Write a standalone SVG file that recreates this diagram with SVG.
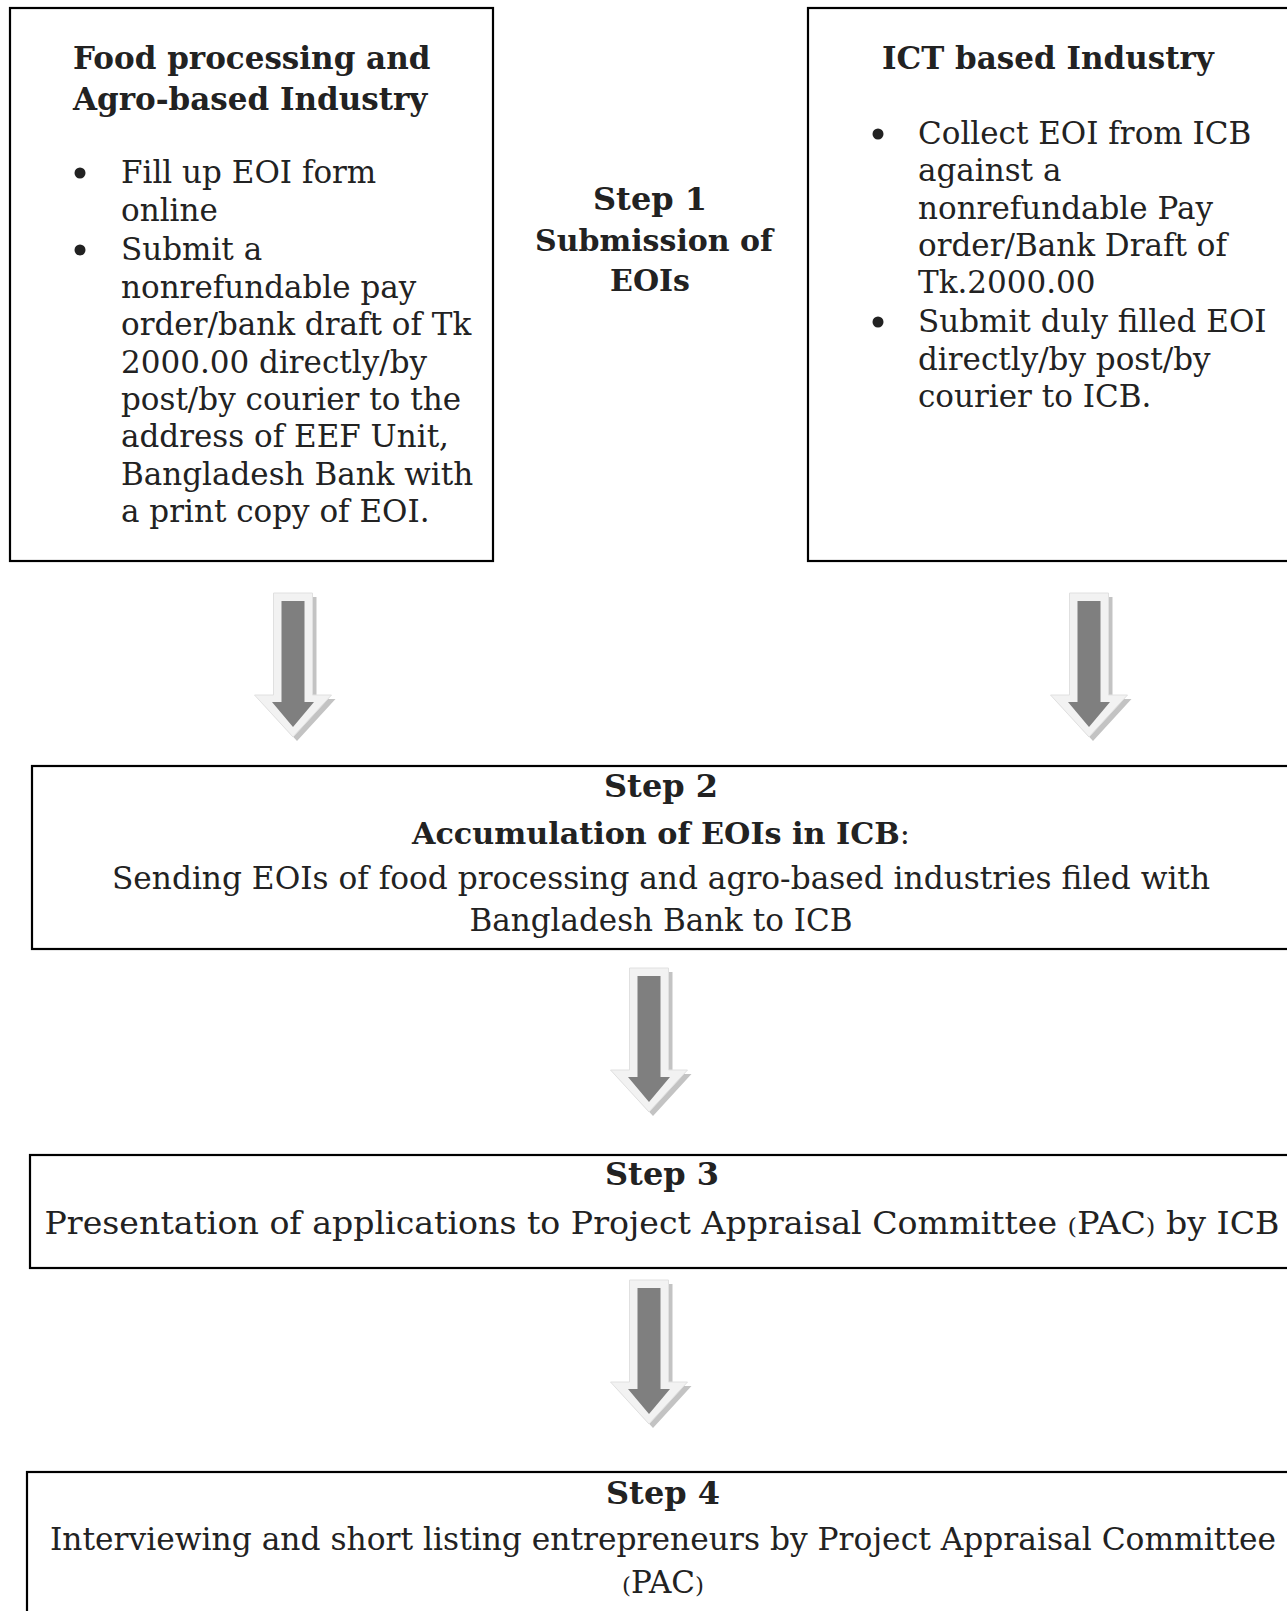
<svg xmlns="http://www.w3.org/2000/svg" xmlns:xlink="http://www.w3.org/1999/xlink" width="1287" height="1611" viewBox="0 0 1287 1611">
<style>
.box{fill:#fff;stroke:#000;stroke-width:2.2}
.t{font-family:"DejaVu Serif","Liberation Serif",serif;fill:#222}
.h{font-weight:bold;font-size:31px}
.b{font-size:31px}
.s{font-weight:bold;font-size:32px}
.c{text-anchor:middle}
.p{font-size:23px}
.dot{fill:#222}
</style>
<defs>
<g id="arrow">
<path d="M-15.5,4 H23.5 V106 H42.5 L4,148 L-34.5,106 H-15.5 Z" fill="#c3c3c3"/>
<path d="M-19.5,0 H19.5 V102 H38.5 L0,144 L-38.5,102 H-19.5 Z" fill="#f2f2f2" stroke="#e0e0e0" stroke-width="1"/>
<path d="M-11.5,8 H11.5 V109 H21 L0,134 L-21,109 H-11.5 Z" fill="#7f7f7f"/>
</g>
</defs>
<rect width="1287" height="1611" fill="#fff"/>

<g id="connectors">
<use xlink:href="#arrow" x="293" y="593"/>
<use xlink:href="#arrow" x="1089" y="593"/>
<use xlink:href="#arrow" x="649" y="968"/>
<use xlink:href="#arrow" x="649" y="1280"/>
</g>

<g id="food">
<rect class="box" x="10" y="8" width="483" height="553"/>
<text class="t h" x="73" y="69">Food processing and</text>
<text class="t h" x="73" y="110">Agro-based Industry</text>
<circle class="dot" cx="80" cy="173" r="5.5"/>
<circle class="dot" cx="80" cy="250" r="5.5"/>
<text class="t b" x="121" y="183">Fill up EOI form</text>
<text class="t b" x="121" y="221">online</text>
<text class="t b" x="121" y="260">Submit a</text>
<text class="t b" x="121" y="298">nonrefundable pay</text>
<text class="t b" x="121" y="335">order/bank draft of Tk</text>
<text class="t b" x="121" y="373">2000.00 directly/by</text>
<text class="t b" x="121" y="410">post/by courier to the</text>
<text class="t b" x="121" y="447">address of EEF Unit,</text>
<text class="t b" x="121" y="485">Bangladesh Bank with</text>
<text class="t b" x="121" y="522">a print copy of EOI.</text>
</g>

<g id="step1">
<text class="t c" style="font-weight:bold;font-size:32px" x="650" y="210">Step 1</text>
<text class="t c" style="font-weight:bold;font-size:30px" x="654" y="251">Submission of</text>
<text class="t c" style="font-weight:bold;font-size:30px" x="650" y="291">EOIs</text>
</g>

<g id="ict">
<rect class="box" x="808" y="8" width="500" height="553"/>
<text class="t h" x="882" y="69">ICT based Industry</text>
<circle class="dot" cx="878" cy="134" r="5.5"/>
<circle class="dot" cx="878" cy="322" r="5.5"/>
<text class="t b" x="918" y="144">Collect EOI from ICB</text>
<text class="t b" x="918" y="181">against a</text>
<text class="t b" x="918" y="219">nonrefundable Pay</text>
<text class="t b" x="918" y="256">order/Bank Draft of</text>
<text class="t b" x="918" y="293">Tk.2000.00</text>
<text class="t b" x="918" y="332">Submit duly filled EOI</text>
<text class="t b" x="918" y="370">directly/by post/by</text>
<text class="t b" x="918" y="407">courier to ICB.</text>
</g>

<g id="step2">
<rect class="box" x="32" y="766" width="1280" height="183"/>
<text class="t s c" x="661" y="797">Step 2</text>
<text class="t c" style="font-weight:bold;font-size:30px" x="661" y="844" textLength="498" lengthAdjust="spacingAndGlyphs">Accumulation of EOIs in ICB<tspan style="font-weight:normal">:</tspan></text>
<text class="t b c" x="661" y="889" textLength="1098" lengthAdjust="spacingAndGlyphs">Sending EOIs of food processing and agro-based industries filed with</text>
<text class="t b c" x="661" y="931">Bangladesh Bank to ICB</text>
</g>

<g id="step3">
<rect class="box" x="30" y="1155" width="1280" height="113"/>
<text class="t s c" x="662" y="1185">Step 3</text>
<text class="t b c" x="662" y="1234" textLength="1235" lengthAdjust="spacingAndGlyphs">Presentation of applications to Project Appraisal Committee <tspan class="p">(</tspan>PAC<tspan class="p">)</tspan> by ICB</text>
</g>

<g id="step4">
<rect class="box" x="27" y="1472" width="1285" height="160"/>
<text class="t s c" x="663" y="1504">Step 4</text>
<text class="t b c" x="663" y="1550" textLength="1226" lengthAdjust="spacingAndGlyphs">Interviewing and short listing entrepreneurs by Project Appraisal Committee</text>
<text class="t b c" x="663" y="1593"><tspan class="p">(</tspan>PAC<tspan class="p">)</tspan></text>
</g>
</svg>
